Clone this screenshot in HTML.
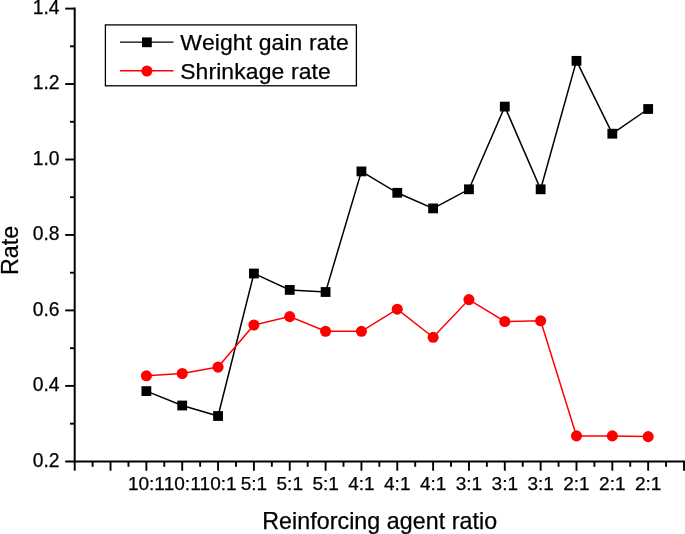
<!DOCTYPE html>
<html><head><meta charset="utf-8">
<style>
html,body{margin:0;padding:0;background:#fff;}
body{width:685px;height:534px;overflow:hidden;}
svg{display:block;}
text{font-family:"Liberation Sans",Arial,sans-serif;fill:#000;font-kerning:none;stroke:#000;stroke-width:0.25px;}
.tk{font-size:19.3px;}
.tt{font-size:22.95px;letter-spacing:0.11px;}
</style></head><body>
<svg width="685" height="534" viewBox="0 0 685 534">
<rect width="685" height="534" fill="#fff"/>
<!-- axes -->
<g stroke="#000" stroke-width="2" fill="none" stroke-linecap="butt">
<line x1="74.7" y1="7.6" x2="74.7" y2="462.6"/>
<line x1="65.2" y1="461.6" x2="685" y2="461.6"/>
</g>
<g id="yt" stroke="#000" stroke-width="1.9" fill="none">
<line x1="65.2" x2="74.7" y1="8.6" y2="8.6"/>
<line x1="70" x2="74.7" y1="46.3" y2="46.3"/>
<line x1="65.2" x2="74.7" y1="84.05" y2="84.05"/>
<line x1="70" x2="74.7" y1="121.8" y2="121.8"/>
<line x1="65.2" x2="74.7" y1="159.5" y2="159.5"/>
<line x1="70" x2="74.7" y1="197.2" y2="197.2"/>
<line x1="65.2" x2="74.7" y1="234.95" y2="234.95"/>
<line x1="70" x2="74.7" y1="272.7" y2="272.7"/>
<line x1="65.2" x2="74.7" y1="310.4" y2="310.4"/>
<line x1="70" x2="74.7" y1="348.2" y2="348.2"/>
<line x1="65.2" x2="74.7" y1="385.9" y2="385.9"/>
<line x1="70" x2="74.7" y1="423.7" y2="423.7"/>
</g>
<g id="xt" stroke="#000" stroke-width="1.9" fill="none">
<line x1="74.70" x2="74.70" y1="461.5" y2="470.7"/>
<line x1="92.62" x2="92.62" y1="461.5" y2="466.8"/>
<line x1="110.54" x2="110.54" y1="461.5" y2="470.7"/>
<line x1="128.46" x2="128.46" y1="461.5" y2="466.8"/>
<line x1="146.38" x2="146.38" y1="461.5" y2="470.7"/>
<line x1="164.30" x2="164.30" y1="461.5" y2="466.8"/>
<line x1="182.22" x2="182.22" y1="461.5" y2="470.7"/>
<line x1="200.14" x2="200.14" y1="461.5" y2="466.8"/>
<line x1="218.06" x2="218.06" y1="461.5" y2="470.7"/>
<line x1="235.99" x2="235.99" y1="461.5" y2="466.8"/>
<line x1="253.91" x2="253.91" y1="461.5" y2="470.7"/>
<line x1="271.83" x2="271.83" y1="461.5" y2="466.8"/>
<line x1="289.75" x2="289.75" y1="461.5" y2="470.7"/>
<line x1="307.67" x2="307.67" y1="461.5" y2="466.8"/>
<line x1="325.59" x2="325.59" y1="461.5" y2="470.7"/>
<line x1="343.51" x2="343.51" y1="461.5" y2="466.8"/>
<line x1="361.43" x2="361.43" y1="461.5" y2="470.7"/>
<line x1="379.35" x2="379.35" y1="461.5" y2="466.8"/>
<line x1="397.27" x2="397.27" y1="461.5" y2="470.7"/>
<line x1="415.19" x2="415.19" y1="461.5" y2="466.8"/>
<line x1="433.11" x2="433.11" y1="461.5" y2="470.7"/>
<line x1="451.03" x2="451.03" y1="461.5" y2="466.8"/>
<line x1="468.95" x2="468.95" y1="461.5" y2="470.7"/>
<line x1="486.87" x2="486.87" y1="461.5" y2="466.8"/>
<line x1="504.79" x2="504.79" y1="461.5" y2="470.7"/>
<line x1="522.71" x2="522.71" y1="461.5" y2="466.8"/>
<line x1="540.64" x2="540.64" y1="461.5" y2="470.7"/>
<line x1="558.56" x2="558.56" y1="461.5" y2="466.8"/>
<line x1="576.48" x2="576.48" y1="461.5" y2="470.7"/>
<line x1="594.40" x2="594.40" y1="461.5" y2="466.8"/>
<line x1="612.32" x2="612.32" y1="461.5" y2="470.7"/>
<line x1="630.24" x2="630.24" y1="461.5" y2="466.8"/>
<line x1="648.16" x2="648.16" y1="461.5" y2="470.7"/>
<line x1="666.08" x2="666.08" y1="461.5" y2="466.8"/>
<line x1="684.00" x2="684.00" y1="461.5" y2="470.7"/>
</g>
<g class="tk" text-anchor="end">
<text x="59.6" y="13.9">1.4</text>
<text x="59.6" y="89.4">1.2</text>
<text x="59.6" y="164.9">1.0</text>
<text x="59.6" y="240.3">0.8</text>
<text x="59.6" y="315.8">0.6</text>
<text x="59.6" y="391.3">0.4</text>
<text x="59.6" y="466.8">0.2</text>
</g>
<g class="tk" style="font-size:19px" text-anchor="middle">
<text x="146.38" y="490.3">10:1</text>
<text x="182.22" y="490.3">10:1</text>
<text x="218.06" y="490.3">10:1</text>
<text x="253.91" y="490.3">5:1</text>
<text x="289.75" y="490.3">5:1</text>
<text x="325.59" y="490.3">5:1</text>
<text x="361.43" y="490.3">4:1</text>
<text x="397.27" y="490.3">4:1</text>
<text x="433.11" y="490.3">4:1</text>
<text x="468.95" y="490.3">3:1</text>
<text x="504.79" y="490.3">3:1</text>
<text x="540.64" y="490.3">3:1</text>
<text x="576.48" y="490.3">2:1</text>
<text x="612.32" y="490.3">2:1</text>
<text x="648.16" y="490.3">2:1</text>
</g>
<text class="tt" style="font-size:23.2px;letter-spacing:0.07px" text-anchor="middle" x="379.7" y="528.9">Reinforcing agent ratio</text>
<text class="tt" style="font-size:23.3px;letter-spacing:0" text-anchor="middle" transform="translate(17.9,250.5) rotate(-90)">Rate</text>
<!-- legend -->
<rect x="105.4" y="24.9" width="251.0" height="60.9" fill="#fff" stroke="#000" stroke-width="1.3"/>
<line x1="120" x2="173.5" y1="42.1" y2="42.1" stroke="#000" stroke-width="1.4"/>
<rect x="142" y="37.4" width="9.8" height="9.8" fill="#000"/>
<line x1="120" x2="173.5" y1="70.8" y2="70.8" stroke="#f00" stroke-width="1.4"/>
<circle cx="146.9" cy="71" r="5.5" fill="#f00"/>
<text class="tt" x="180.15" y="50.1">Weight gain rate</text>
<text class="tt" x="180.15" y="78.7">Shrinkage rate</text>
<!-- series -->
<polyline fill="none" stroke="#000" stroke-width="1.5" points="146.38,391.1 182.22,405.5 218.06,416 253.91,273.5 289.75,289.9 325.59,292 361.43,171.4 397.27,192.8 433.11,208.4 468.95,189.3 504.79,106.6 540.64,189.3 576.48,60.85 612.32,133.7 648.16,109"/>
<polyline fill="none" stroke="#f00" stroke-width="1.5" points="146.38,375.8 182.22,373.5 218.06,367.1 253.91,325 289.75,316.6 325.59,331.3 361.43,331.3 397.27,309.2 433.11,337.3 468.95,299.6 504.79,321.5 540.64,320.8 576.48,435.9 612.32,435.9 648.16,436.6"/>
<g fill="#000">
<rect x="141.48" y="386.20" width="9.8" height="9.8"/>
<rect x="177.32" y="400.60" width="9.8" height="9.8"/>
<rect x="213.16" y="411.10" width="9.8" height="9.8"/>
<rect x="249.01" y="268.60" width="9.8" height="9.8"/>
<rect x="284.85" y="285.00" width="9.8" height="9.8"/>
<rect x="320.69" y="287.10" width="9.8" height="9.8"/>
<rect x="356.53" y="166.50" width="9.8" height="9.8"/>
<rect x="392.37" y="187.90" width="9.8" height="9.8"/>
<rect x="428.21" y="203.50" width="9.8" height="9.8"/>
<rect x="464.05" y="184.40" width="9.8" height="9.8"/>
<rect x="499.89" y="101.70" width="9.8" height="9.8"/>
<rect x="535.74" y="184.40" width="9.8" height="9.8"/>
<rect x="571.58" y="55.95" width="9.8" height="9.8"/>
<rect x="607.42" y="128.80" width="9.8" height="9.8"/>
<rect x="643.26" y="104.10" width="9.8" height="9.8"/>
</g>
<g fill="#f00">
<circle cx="146.38" cy="375.8" r="5.55"/>
<circle cx="182.22" cy="373.5" r="5.55"/>
<circle cx="218.06" cy="367.1" r="5.55"/>
<circle cx="253.91" cy="325" r="5.55"/>
<circle cx="289.75" cy="316.6" r="5.55"/>
<circle cx="325.59" cy="331.3" r="5.55"/>
<circle cx="361.43" cy="331.3" r="5.55"/>
<circle cx="397.27" cy="309.2" r="5.55"/>
<circle cx="433.11" cy="337.3" r="5.55"/>
<circle cx="468.95" cy="299.6" r="5.55"/>
<circle cx="504.79" cy="321.5" r="5.55"/>
<circle cx="540.64" cy="320.8" r="5.55"/>
<circle cx="576.48" cy="435.9" r="5.55"/>
<circle cx="612.32" cy="435.9" r="5.55"/>
<circle cx="648.16" cy="436.6" r="5.55"/>
</g>
</svg>
</body></html>
